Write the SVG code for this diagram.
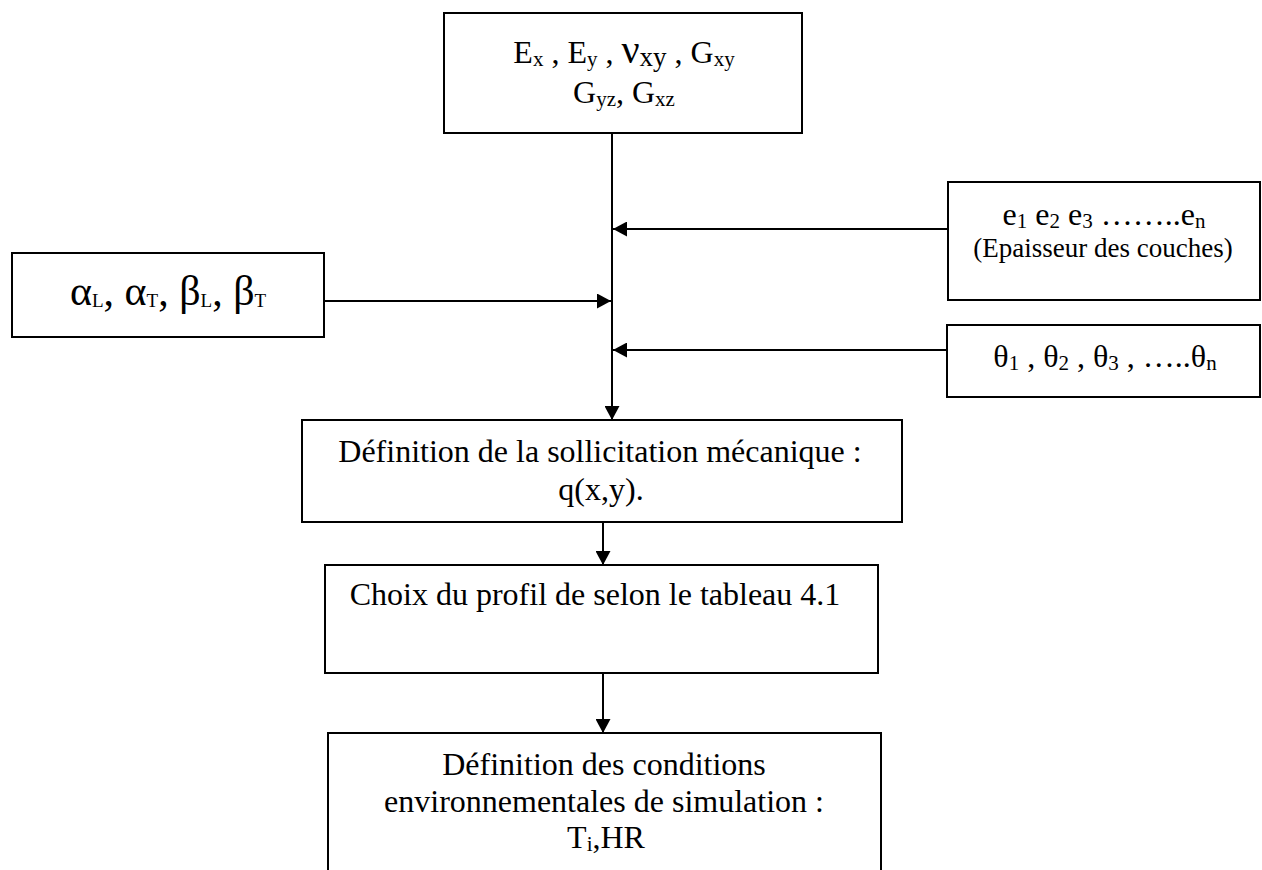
<svg xmlns="http://www.w3.org/2000/svg" width="1262" height="870" viewBox="0 0 1262 870">
<style>
  .box { fill: #fff; stroke: #000; stroke-width: 2; }
  .t { font-family: "Liberation Serif", "Times New Roman", serif; font-size: 32px; fill: #000; text-anchor: middle; }
  .s { font-size: 21px; }
  .small { font-size: 27px; }
  .gk { font-size: 42px; }
  .ln { stroke: #000; stroke-width: 2; fill: none; }
</style>
<defs>
  <marker id="ah" markerUnits="userSpaceOnUse" markerWidth="15" markerHeight="15" refX="14" refY="7.5" orient="auto">
    <path d="M0,0 L14,7.5 L0,15 z" fill="#000"/>
  </marker>
</defs>
<rect width="1262" height="870" fill="#fff"/>

<g id="connectors">
  <line class="ln" x1="612" y1="133" x2="612" y2="420" marker-end="url(#ah)"/>
  <line class="ln" x1="948" y1="229" x2="613" y2="229" marker-end="url(#ah)"/>
  <line class="ln" x1="947" y1="350" x2="613" y2="350" marker-end="url(#ah)"/>
  <line class="ln" x1="324" y1="301" x2="611" y2="301" marker-end="url(#ah)"/>
  <line class="ln" x1="603" y1="522" x2="603" y2="565" marker-end="url(#ah)"/>
  <line class="ln" x1="603" y1="673" x2="603" y2="733" marker-end="url(#ah)"/>
</g>

<g id="node-props">
  <rect class="box" x="444" y="13" width="358" height="120"/>
  <text class="t" x="624" y="63">E<tspan class="s" dy="3">x</tspan><tspan dy="-3"> , E</tspan><tspan class="s" dy="3">y</tspan><tspan dy="-3"> , </tspan><tspan font-size="40px">ν</tspan><tspan font-size="27px" dy="3">xy</tspan><tspan dy="-3"> , G</tspan><tspan class="s" dy="3">xy</tspan></text>
  <text class="t" x="624" y="103">G<tspan class="s" dy="3">yz</tspan><tspan dy="-3">, G</tspan><tspan class="s" dy="3">xz</tspan></text>
</g>

<g id="node-thickness">
  <rect class="box" x="948" y="182" width="312" height="118"/>
  <text class="t" x="1104" y="225">e<tspan class="s" dy="3">1</tspan><tspan dy="-3"> e</tspan><tspan class="s" dy="3">2</tspan><tspan dy="-3"> e</tspan><tspan class="s" dy="3">3</tspan><tspan dy="-3">  ……..e</tspan><tspan class="s" dy="3">n</tspan></text>
  <text class="t small" x="1103" y="257">(Epaisseur des couches)</text>
</g>

<g id="node-coefficients">
  <rect class="box" x="12" y="253" width="312" height="84"/>
  <text class="t" x="168" y="305"><tspan class="gk">α</tspan><tspan font-size="19px" dy="2">L</tspan><tspan class="gk" dy="-2">, α</tspan><tspan font-size="19px" dy="2">T</tspan><tspan class="gk" dy="-2">, β</tspan><tspan font-size="19px" dy="2">L</tspan><tspan class="gk" dy="-2">, β</tspan><tspan font-size="19px" dy="2">T</tspan></text>
</g>

<g id="node-angles">
  <rect class="box" x="947" y="325" width="313" height="72"/>
  <text class="t" x="1105" y="367">θ<tspan class="s" dy="3">1</tspan><tspan dy="-3"> , θ</tspan><tspan class="s" dy="3">2</tspan><tspan dy="-3"> , θ</tspan><tspan class="s" dy="3">3</tspan><tspan dy="-3"> , …..θ</tspan><tspan class="s" dy="3">n</tspan></text>
</g>

<g id="node-load">
  <rect class="box" x="302" y="420" width="600" height="102"/>
  <text class="t" x="600" y="462">Définition de la sollicitation mécanique :</text>
  <text class="t" x="601" y="500">q(x,y).</text>
</g>

<g id="node-profile">
  <rect class="box" x="325" y="565" width="553" height="108"/>
  <text class="t" x="595" y="605">Choix du profil de selon le tableau 4.1</text>
</g>

<g id="node-environment">
  <rect class="box" x="328" y="733" width="553" height="150"/>
  <text class="t" x="604" y="775">Définition des conditions</text>
  <text class="t" x="604" y="812">environnementales de simulation :</text>
  <text class="t" x="606" y="848">T<tspan class="s" dy="3">i</tspan><tspan dy="-3">,HR</tspan></text>
</g>
</svg>
